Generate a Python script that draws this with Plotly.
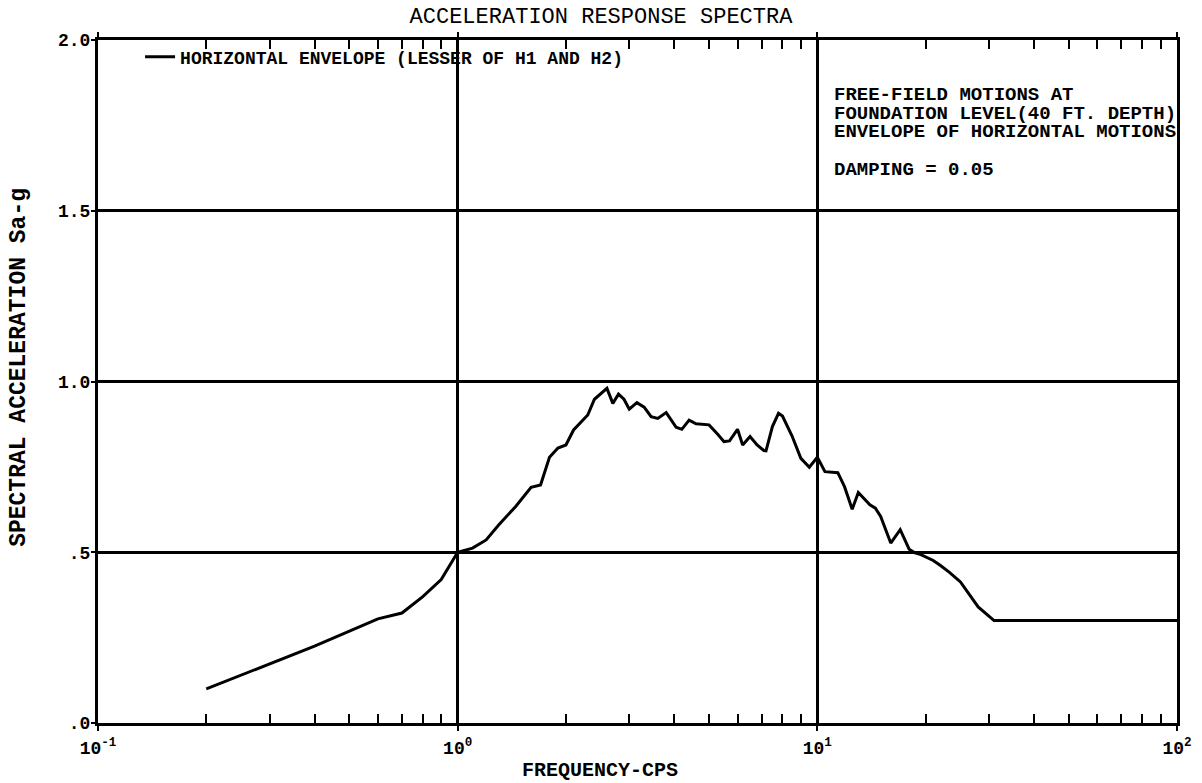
import plotly.graph_objects as go

# ---- data ----
freq = [0.2, 0.4, 0.6, 0.7, 0.8, 0.9, 1.0, 1.1, 1.2, 1.3, 1.45, 1.6, 1.7, 1.8, 1.9,
        2.0, 2.1, 2.2, 2.3, 2.4, 2.6, 2.7, 2.8, 2.9, 3.0, 3.15, 3.3, 3.45, 3.6, 3.8,
        4.05, 4.2, 4.4, 4.6, 5.0, 5.3, 5.5, 5.7, 6.0, 6.2, 6.5, 6.8, 7.1, 7.2, 7.5,
        7.8, 8.0, 8.5, 9.0, 9.5, 10.0, 10.5, 11.4, 11.9, 12.5, 13.0, 14.0, 14.5, 15.0,
        16.0, 17.0, 18.0, 18.6, 19.4, 21.0, 22.0, 23.3, 25.0, 28.0, 31.0, 100.0]
sa = [0.10, 0.225, 0.305, 0.322, 0.37, 0.42, 0.50, 0.512, 0.536, 0.58, 0.634, 0.69,
      0.697, 0.778, 0.805, 0.814, 0.858, 0.88, 0.902, 0.948, 0.98, 0.936, 0.963, 0.948,
      0.919, 0.938, 0.925, 0.897, 0.892, 0.909, 0.866, 0.86, 0.887, 0.876, 0.873, 0.844,
      0.824, 0.826, 0.86, 0.814, 0.839, 0.814, 0.798, 0.797, 0.868, 0.907, 0.899, 0.841,
      0.775, 0.749, 0.778, 0.736, 0.733, 0.692, 0.626, 0.675, 0.639, 0.629, 0.605, 0.527,
      0.566, 0.509, 0.499, 0.493, 0.476, 0.461, 0.441, 0.413, 0.34, 0.30, 0.30]

series_name = "HORIZONTAL ENVELOPE (LESSER OF H1 AND H2)"
title_text = "ACCELERATION RESPONSE SPECTRA"
x_title = "FREQUENCY-CPS"
y_title = "SPECTRAL ACCELERATION Sa-g"
x_tickvals = [0.1, 1, 10, 100]
x_ticktext = ["10<sup>-1</sup>", "10<sup>0</sup>", "10<sup>1</sup>", "10<sup>2</sup>"]
y_tickvals = [0, 0.5, 1.0, 1.5, 2.0]
y_ticktext = [".0", ".5", "1.0", "1.5", "2.0"]
note_lines = ["FREE-FIELD MOTIONS AT",
              "FOUNDATION LEVEL(40 FT. DEPTH)",
              "ENVELOPE OF HORIZONTAL MOTIONS",
              "DAMPING = 0.05"]
note_y = [0.920, 0.892, 0.865, 0.809]

FONT = "Liberation Mono"
minor_vals = [m * 10 ** e for e in (-1, 0, 1) for m in range(2, 10)]

fig = go.Figure()
fig.add_trace(go.Scatter(x=freq, y=sa, mode="lines", name=series_name,
                         line=dict(color="black", width=3), showlegend=True))

fig.update_layout(
    width=1202, height=783,
    margin=dict(l=98, r=25, t=40, b=60),
    paper_bgcolor="white", plot_bgcolor="white",
    title=dict(text=title_text, x=0.5, xanchor="center", y=0.98, yanchor="middle",
               font=dict(family=FONT, size=22, color="black")),
    showlegend=True,
    legend=dict(x=0.039, y=0.975, xanchor="left", yanchor="middle", bgcolor="rgba(0,0,0,0)",
                font=dict(family=FONT, size=18, color="black", weight="bold")),
    xaxis=dict(type="log", range=[-1, 2], tickmode="array", tickvals=x_tickvals,
               ticktext=x_ticktext, ticks="outside", ticklen=5, tickwidth=2,
               ticklabelstandoff=1,
               tickcolor="black", showline=True, linecolor="black", linewidth=3,
               mirror="allticks", showgrid=True, gridcolor="black", gridwidth=2.5,
               zeroline=False, automargin=False,
               tickfont=dict(family=FONT, size=18, color="black", weight="bold"),
               minor=dict(tickmode="array", tickvals=minor_vals, ticks="inside",
                          ticklen=9, tickwidth=2, tickcolor="black", showgrid=False)),
    yaxis=dict(range=[0, 2.0], tickmode="array", tickvals=y_tickvals, ticktext=y_ticktext,
               ticks="outside", ticklen=4, tickwidth=2, tickcolor="black",
               ticklabelstandoff=-3,
               showline=True, linecolor="black", linewidth=3, mirror=True,
               showgrid=True, gridcolor="black", gridwidth=2.5, zeroline=False,
               automargin=False,
               tickfont=dict(family=FONT, size=18, color="black", weight="bold")),
)

# axis titles
fig.add_annotation(text=x_title, xref="paper", yref="paper", x=0.465, y=-0.069,
                   xanchor="center", yanchor="middle", showarrow=False,
                   font=dict(family=FONT, size=20, color="black", weight="bold"))
fig.add_annotation(text=y_title, xref="paper", yref="paper", x=-0.0732, y=0.52,
                   xanchor="center", yanchor="middle", showarrow=False, textangle=-90,
                   font=dict(family=FONT, size=23, color="black", weight="bold"))

for txt, yy in zip(note_lines, note_y):
    fig.add_annotation(text=txt, xref="paper", yref="paper", x=0.680, y=yy,
                       xanchor="left", yanchor="middle", showarrow=False,
                       font=dict(family=FONT, size=19, color="black", weight="bold"))

fig.write_html("out.html", config={"displayModeBar": False},
               post_script="document.body.style.margin='0';")
